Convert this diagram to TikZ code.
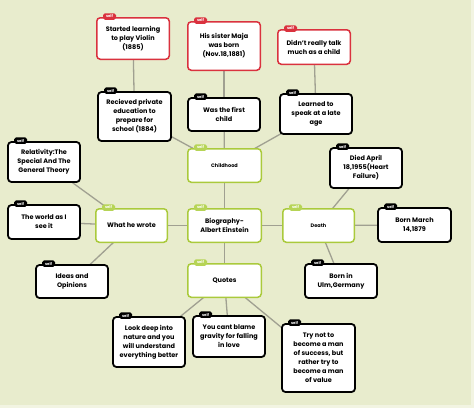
\documentclass[tikz,border=0pt]{standalone}
\usepackage{fontspec}
\setmainfont{Poppins}
\usetikzlibrary{calc}
\definecolor{bgmain}{RGB}{232,236,205}
\definecolor{bgedge}{RGB}{242,244,226}
\definecolor{boxred}{RGB}{218,50,62}
\definecolor{boxgreen}{RGB}{170,202,60}
\definecolor{taggreen}{RGB}{182,212,86}
\definecolor{conncol}{RGB}{160,160,145}
\pgfdeclarelayer{bgfill}
\pgfdeclarelayer{background}
\pgfsetlayers{bgfill,background,main}
\tikzset{
  boxbase/.style={rounded corners=3.5pt, fill=white, align=center, inner sep=0pt,
    font=\fontsize{6.5}{9}\selectfont\bfseries},
  blk/.style={boxbase, draw=black, line width=1.8pt},
  redb/.style={boxbase, draw=boxred, line width=1.5pt},
  grn/.style={boxbase, draw=boxgreen, line width=1.5pt},
  smalltxt/.style={font=\fontsize{5}{6}\selectfont\bfseries},
  tag/.style={rounded corners=1.8pt, minimum width=13pt, minimum height=6.5pt, inner sep=0pt,
    text=white, font=\fontsize{3.8}{3.8}\selectfont\bfseries},
  conn/.style={draw=conncol, line width=1.3pt}
}
\begin{document}
\begin{tikzpicture}[x=1pt,y=-1pt]
\useasboundingbox (0,0) rectangle (474,408);
\begin{pgfonlayer}{bgfill}
\fill[bgedge] (0,0) rectangle (474,408);
\fill[bgmain] (0,0) rectangle (471,405);
\end{pgfonlayer}

% red boxes
\node[redb, minimum width=72.5pt, minimum height=41.5pt] (violin) at (133,38.5) {Started learning\\to play Violin\\(1885)};
\node[redb, minimum width=72.5pt, minimum height=48.5pt] (maja) at (224,46) {His sister Maja\\was born\\(Nov.18,1881)};
\node[redb, minimum width=72.5pt, minimum height=34.5pt] (talk) at (314,47) {Didn’t really talk\\much as a child};

% black boxes
\node[blk, minimum width=73pt, minimum height=49pt] (rec) at (134.5,116.5) {Recieved private\\education to\\prepare for\\school (1884)};
\node[blk, minimum width=72pt, minimum height=33pt] (first) at (224,114.5) {Was the first\\child};
\node[blk, minimum width=72pt, minimum height=40pt] (learned) at (316,114) {Learned to\\speak at a late\\age};
\node[blk, minimum width=72pt, minimum height=40pt] (rel) at (44,162) {Relativity:The\\Special And The\\General Theory};
\node[blk, minimum width=72pt, minimum height=34pt] (world) at (44,222) {The world as I\\see it};
\node[blk, minimum width=72pt, minimum height=33pt] (ideas) at (72,281.5) {Ideas and\\Opinions};
\node[blk, minimum width=72pt, minimum height=40pt] (died) at (366,168) {Died April\\18,1955(Heart\\Failure)};
\node[blk, minimum width=73pt, minimum height=34pt] (bornm) at (414.5,225) {Born March\\14,1879};
\node[blk, minimum width=72pt, minimum height=34pt] (ulm) at (341,281) {Born in\\Ulm,Germany};
\node[blk, minimum width=72pt, minimum height=50pt] (look) at (149,342) {Look deep into\\nature and you\\will understand\\everything better};
\node[blk, minimum width=72pt, minimum height=41pt] (grav) at (229,336.5) {You cant blame\\gravity for falling\\in love};
\node[blk, minimum width=73pt, minimum height=68pt] (try) at (318.5,358) {Try not to\\become a man\\of success, but\\rather try to\\become a man\\of value};

% green boxes
\node[grn, smalltxt, minimum width=73.5pt, minimum height=33.5pt] (child) at (224.5,165.5) {Childhood};
\node[grn, minimum width=73.5pt, minimum height=33.5pt] (bio) at (224.5,225.5) {Biography-\\Albert Einstein};
\node[grn, smalltxt, minimum width=71.5pt, minimum height=33.5pt] (death) at (318.5,225.5) {Death};
\node[grn, minimum width=71.5pt, minimum height=33.5pt] (what) at (131.5,225.5) {What he wrote};
\node[grn, minimum width=73.5pt, minimum height=33.5pt] (quotes) at (224.5,280.5) {Quotes};

% tags
\foreach \n in {violin,maja,talk}
  \node[tag, fill=boxred] (tag-\n) at ($(\n.north west)+(13.5,-0.5)$) {self};
\foreach \n in {rec,first,learned,rel,world,ideas,died,bornm,ulm,look,grav,try}
  \node[tag, fill=black] (tag-\n) at ($(\n.north west)+(13.5,-0.5)$) {self};
\foreach \n in {child,bio,death,what,quotes}
  \node[tag, fill=taggreen] (tag-\n) at ($(\n.north west)+(13.5,-0.5)$) {self};

% connectors
\begin{pgfonlayer}{background}
\foreach \a/\b in {violin/rec, maja/first, talk/learned, rec/child, first/child, learned/child,
  child/bio, bio/what, bio/death, bio/quotes, what/rel, what/world, what/ideas,
  death/died, death/bornm, death/ulm, quotes/look, quotes/grav, quotes/try}
  \draw[conn] (\a.center) -- (\b.center);
\end{pgfonlayer}
\end{tikzpicture}
\end{document}
